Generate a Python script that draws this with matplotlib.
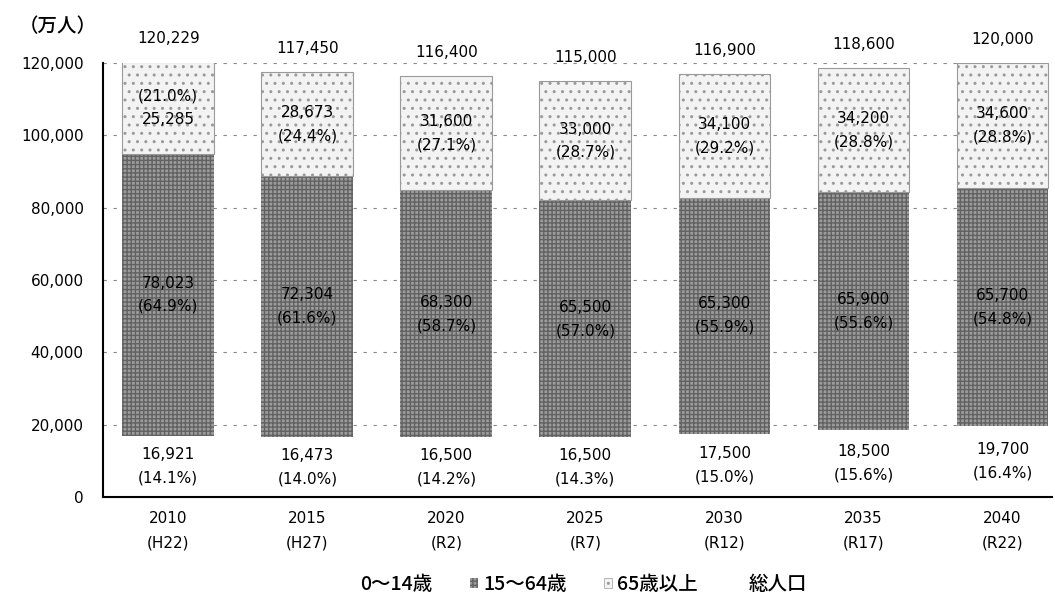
import matplotlib.pyplot as plt
from matplotlib.patches import Patch
from matplotlib.lines import Line2D

plt.rcParams['font.family'] = ['DejaVu Sans', 'Noto Sans CJK JP']

years = ["2010\n(H22)", "2015\n(H27)", "2020\n(R2)", "2025\n(R7)", "2030\n(R12)", "2035\n(R17)", "2040\n(R22)"]
young = [16921, 16473, 16500, 16500, 17500, 18500, 19700]
working = [78023, 72304, 68300, 65500, 65300, 65900, 65700]
elderly = [25285, 28673, 31600, 33000, 34100, 34200, 34600]
total = [120229, 117450, 116400, 115000, 116900, 118600, 120000]
young_pct = [14.1, 14.0, 14.2, 14.3, 15.0, 15.6, 16.4]
working_pct = [64.9, 61.6, 58.7, 57.0, 55.9, 55.6, 54.8]
elderly_pct = [21.0, 24.4, 27.1, 28.7, 29.2, 28.8, 28.8]

fig = plt.figure(figsize=(10.55, 5.98), dpi=100)
ax = fig.add_axes([0.0976, 0.1689, 0.9, 0.7257])

x = list(range(len(years)))
w = 0.66
bottom2 = [a + b for a, b in zip(young, working)]

ax.bar(x, young, w, color='white', edgecolor='none', zorder=2)
ax.bar(x, working, w, bottom=young, color='#9c9c9c', edgecolor='#626262',
       hatch='++++', linewidth=0, zorder=2)
ax.bar(x, elderly, w, bottom=bottom2, color='#f3f3f3', edgecolor='#9a9a9a',
       hatch='..', linewidth=0.8, zorder=2)

fs = 11
for i in x:
    ax.text(i, young[i] / 2, f"{young[i]:,}\n({young_pct[i]:.1f}%)", ha='center', va='center',
            fontsize=fs, linespacing=1.7, zorder=3)
    ax.text(i, young[i] + working[i] / 2, f"{working[i]:,}\n({working_pct[i]:.1f}%)", ha='center',
            va='center', fontsize=fs, linespacing=1.7, zorder=3)
    if i == 0:
        s = f"({elderly_pct[i]:.1f}%)\n{elderly[i]:,}"
    else:
        s = f"{elderly[i]:,}\n({elderly_pct[i]:.1f}%)"
    ax.text(i, bottom2[i] + elderly[i] / 2, s, ha='center', va='center', fontsize=fs,
            linespacing=1.7, zorder=3)
    ax.annotate(f"{total[i]:,}", (i, total[i]), xytext=(0, 17), textcoords='offset points',
                ha='center', va='center', fontsize=fs, annotation_clip=False)

ax.set_xlim(-0.47, 6.36)
ax.set_ylim(0, 120000)
ax.set_yticks(range(0, 120001, 20000))
ax.set_yticklabels([f"{v:,}" for v in range(0, 120001, 20000)], fontsize=11)
ax.set_xticks(x)
ax.set_xticklabels(years, fontsize=11, linespacing=1.8)
ax.tick_params(axis='y', length=0, pad=14)
ax.tick_params(axis='x', length=0, pad=10)
ax.yaxis.grid(True, linestyle=(0, (3, 6)), color='#888888', linewidth=0.8, zorder=0)
ax.set_axisbelow(True)
for s in ['top', 'right']:
    ax.spines[s].set_visible(False)
ax.spines['left'].set_linewidth(1.5)
ax.spines['bottom'].set_linewidth(1.5)

fig.text(0.018, 0.956, "（万人）", fontsize=14, fontweight='medium',
         family=['Noto Sans CJK JP'], va='center')

handles = [
    Patch(facecolor='white', edgecolor='none'),
    Patch(facecolor='#9c9c9c', edgecolor='#626262', hatch='++++', linewidth=0),
    Patch(facecolor='#f3f3f3', edgecolor='#9a9a9a', hatch='..', linewidth=0.5),
    Line2D([], [], color='none'),
]
labels = ["0〜14歳", "15〜64歳", "65歳以上", "総人口"]
leg = fig.legend(handles, labels, loc='center', bbox_to_anchor=(0.547, 0.022), ncol=4,
                 frameon=False, handlelength=0.4, handleheight=0.4, handletextpad=0.3,
                 columnspacing=1.9, prop={'family': ['Noto Sans CJK JP'], 'size': 14,
                                          'weight': 'medium'})

fig.savefig("out.png", dpi=100)
